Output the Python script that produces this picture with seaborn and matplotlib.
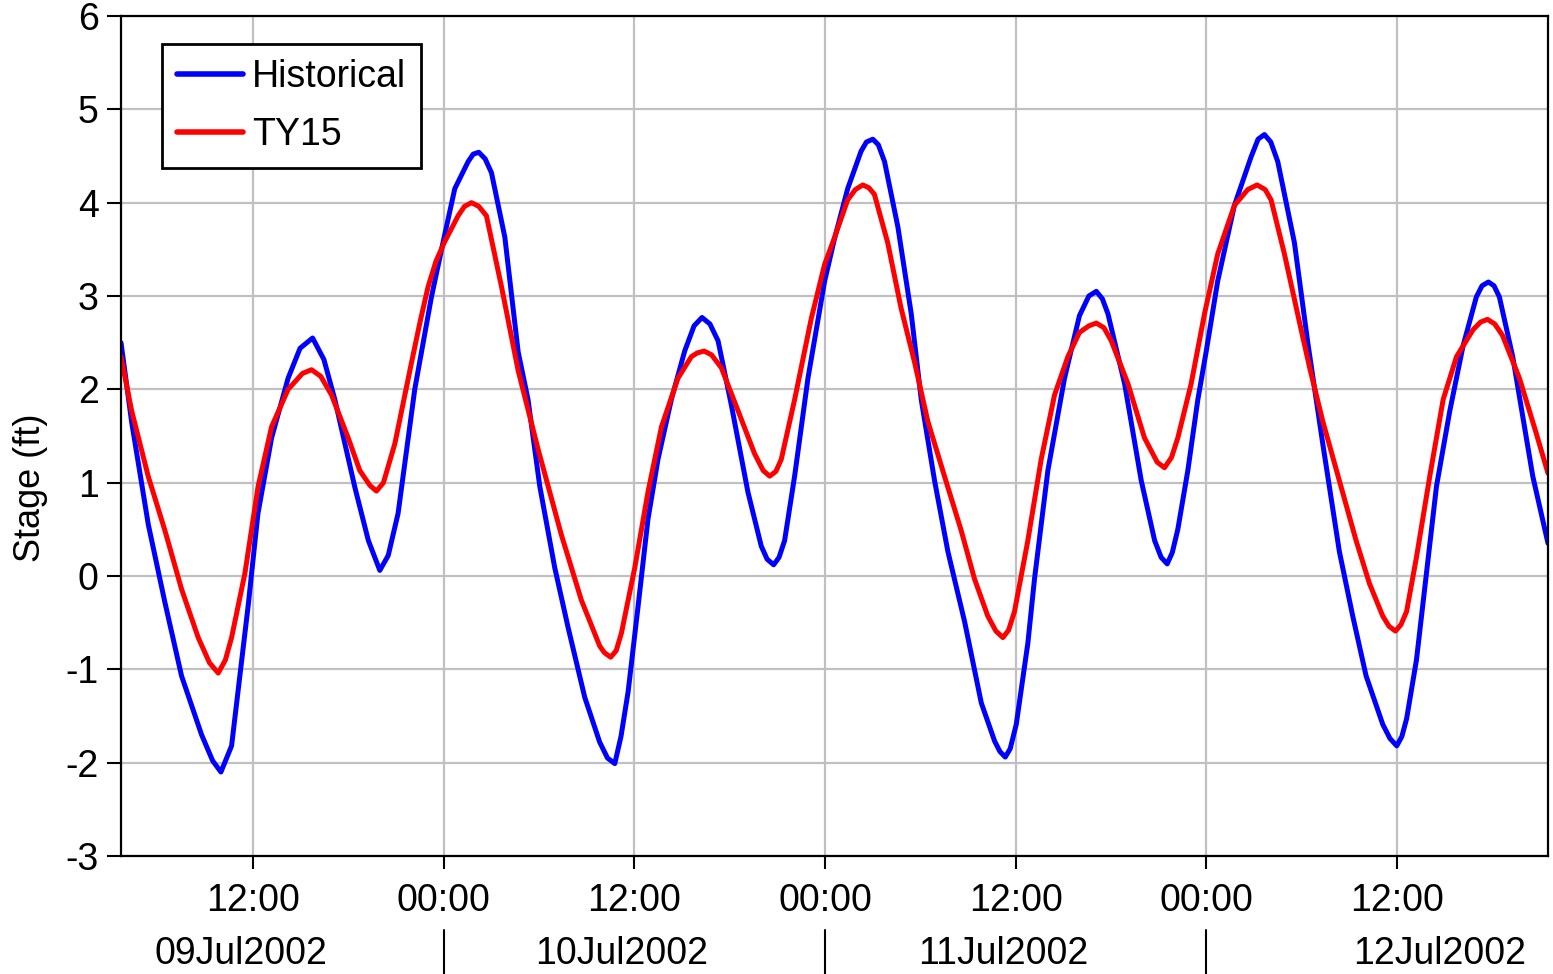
import numpy as np
import pandas as pd
import matplotlib
matplotlib.use("Agg")
import matplotlib.pyplot as plt
import matplotlib.dates as mdates
import matplotlib.transforms as mtransforms
import seaborn as sns

# ---------------- data (hours after 09Jul2002 00:00, stage in ft) ----------------
series_names = ["Historical", "TY15"]
series_colors = ["#0000ff", "#ff0000"]

hist_hours = [3.68, 4.35, 5.40, 6.44, 7.49, 8.75, 9.45, 9.97, 10.64, 11.69, 12.30, 13.16,
              14.20, 14.95, 15.74, 16.45, 17.14, 18.40, 19.25, 19.97, 20.50, 21.12, 22.17,
              23.22, 24.02, 24.69, 25.53, 25.85, 26.20, 26.60, 27.00, 27.84, 28.68, 29.30,
              30.04, 30.98, 31.82, 32.87, 33.81, 34.30, 34.76, 35.15, 35.60, 36.23, 36.85,
              37.48, 38.32, 39.16, 39.75, 40.25, 40.75, 41.26, 42.10, 43.14, 43.98, 44.35,
              44.76, 45.10, 45.45, 46.08, 46.92, 47.97, 48.60, 49.42, 50.26, 50.60, 51.00,
              51.35, 51.74, 52.58, 53.42, 54.05, 54.89, 55.73, 56.78, 57.83, 58.67, 59.00,
              59.34, 59.65, 60.03, 60.76, 61.18, 62.02, 63.07, 64.01, 64.60, 65.07, 65.45,
              65.80, 66.85, 67.90, 68.74, 69.15, 69.53, 69.85, 70.20, 70.83, 71.46, 71.99,
              72.71, 73.76, 74.81, 75.25, 75.65, 76.05, 76.49, 77.54, 78.38, 79.32, 80.37,
              81.21, 82.05, 83.10, 83.55, 83.98, 84.30, 84.60, 85.22, 85.85, 86.48, 87.32,
              88.16, 88.99, 89.35, 89.75, 90.10, 90.44, 91.28, 92.54, 93.50]
hist_stage = [2.50, 1.65, 0.55, -0.28, -1.07, -1.70, -1.98, -2.10, -1.82, -0.31, 0.67, 1.48,
              2.12, 2.44, 2.55, 2.32, 1.89, 0.95, 0.38, 0.06, 0.22, 0.67, 2.00,
              2.99, 3.63, 4.15, 4.44, 4.52, 4.54, 4.47, 4.32, 3.63, 2.40, 1.89,
              0.96, 0.09, -0.55, -1.30, -1.78, -1.95, -2.01, -1.72, -1.24, -0.32, 0.61,
              1.25, 1.89, 2.41, 2.68, 2.77, 2.70, 2.52, 1.83, 0.90, 0.32, 0.18,
              0.12, 0.20, 0.38, 1.07, 2.12, 3.16, 3.62, 4.15, 4.55, 4.65, 4.68,
              4.62, 4.44, 3.74, 2.81, 1.89, 1.02, 0.26, -0.49, -1.36, -1.77, -1.88,
              -1.94, -1.85, -1.59, -0.72, -0.03, 1.13, 2.12, 2.79, 3.00, 3.05, 2.97,
              2.81, 2.06, 1.02, 0.38, 0.20, 0.13, 0.25, 0.50, 1.13, 1.89, 2.41,
              3.16, 3.97, 4.49, 4.68, 4.73, 4.65, 4.44, 3.57, 2.50, 1.42, 0.26,
              -0.43, -1.07, -1.59, -1.74, -1.82, -1.72, -1.53, -0.90, 0.03, 0.96, 1.77,
              2.47, 2.99, 3.11, 3.15, 3.11, 2.99, 2.35, 1.07, 0.35]

ty15_hours = [3.68, 4.35, 5.39, 6.44, 7.49, 8.54, 9.25, 9.80, 10.25, 10.64, 11.48, 12.31,
              13.16, 14.20, 15.10, 15.67, 16.25, 16.93, 17.98, 18.71, 19.35, 19.76, 20.20,
              20.92, 21.97, 22.50, 23.01, 23.50, 24.02, 24.90, 25.30, 25.74, 26.20, 26.68,
              27.63, 28.68, 29.93, 31.40, 32.66, 33.81, 34.10, 34.50, 34.85, 35.18, 36.02,
              36.85, 37.70, 38.74, 39.58, 39.95, 40.38, 40.85, 41.47, 42.52, 43.56, 44.10,
              44.51, 44.90, 45.24, 46.08, 47.13, 47.97, 48.60, 49.42, 49.90, 50.37, 50.75,
              51.10, 51.94, 52.78, 53.63, 54.46, 55.51, 56.56, 57.40, 58.24, 58.75, 59.19,
              59.55, 59.92, 60.76, 61.60, 62.44, 63.28, 64.01, 64.60, 65.07, 65.55, 66.01,
              67.06, 68.10, 68.90, 69.36, 69.80, 70.20, 71.04, 71.88, 72.71, 73.76, 74.60,
              75.19, 75.70, 76.07, 76.91, 77.96, 78.50, 79.32, 80.37, 81.42, 82.26, 83.10,
              83.50, 83.90, 84.25, 84.60, 85.22, 86.06, 86.90, 87.74, 88.79, 89.25, 89.69,
              90.15, 90.63, 91.70, 92.74, 93.50]
ty15_stage = [2.35, 1.77, 1.07, 0.49, -0.14, -0.66, -0.93, -1.04, -0.90, -0.66, 0.03, 0.96,
              1.60, 2.00, 2.17, 2.21, 2.14, 1.94, 1.48, 1.13, 0.97, 0.91, 1.00,
              1.42, 2.29, 2.72, 3.10, 3.37, 3.57, 3.86, 3.96, 4.00, 3.96, 3.86,
              3.10, 2.20, 1.36, 0.44, -0.26, -0.75, -0.82, -0.87, -0.80, -0.61, 0.09,
              0.90, 1.60, 2.12, 2.35, 2.39, 2.41, 2.37, 2.23, 1.77, 1.31, 1.13,
              1.07, 1.12, 1.25, 1.89, 2.76, 3.34, 3.63, 4.03, 4.14, 4.19, 4.16,
              4.09, 3.57, 2.87, 2.29, 1.66, 1.07, 0.49, -0.03, -0.43, -0.59, -0.66,
              -0.58, -0.38, 0.38, 1.25, 1.94, 2.35, 2.61, 2.68, 2.71, 2.66, 2.52,
              2.06, 1.48, 1.22, 1.16, 1.27, 1.48, 2.06, 2.81, 3.45, 3.97, 4.14,
              4.19, 4.14, 4.03, 3.45, 2.64, 2.23, 1.66, 1.02, 0.38, -0.08, -0.43,
              -0.54, -0.59, -0.52, -0.38, 0.20, 1.07, 1.89, 2.35, 2.64, 2.72, 2.75,
              2.70, 2.58, 2.12, 1.54, 1.10]

day_labels = ["09Jul2002", "10Jul2002", "11Jul2002", "12Jul2002"]
y_ticks = [-3, -2, -1, 0, 1, 2, 3, 4, 5, 6]
y_label = "Stage (ft)"

# ---------------- build frame ----------------
t0 = pd.Timestamp("2002-07-09 00:00")
frames = []
for name, hrs, vals in [(series_names[0], hist_hours, hist_stage),
                        (series_names[1], ty15_hours, ty15_stage)]:
    frames.append(pd.DataFrame({
        "time": t0 + pd.to_timedelta(np.array(hrs), unit="h"),
        "stage": vals,
        "series": name,
    }))
df = pd.concat(frames, ignore_index=True)

# ---------------- style ----------------
sns.set_theme(style="white", rc={"text.color": "black", "axes.labelcolor": "black",
                                 "xtick.color": "black", "ytick.color": "black"})
plt.rcParams["font.family"] = ["Liberation Sans", "DejaVu Sans"]
plt.rcParams["axes.unicode_minus"] = False

W, H = 1553, 974
fig = plt.figure(figsize=(W / 100, H / 100), dpi=100)
ax = fig.add_axes([121 / W, 1 - 856 / H, (1548 - 121) / W, (856 - 16) / H])

sns.lineplot(data=df, x="time", y="stage", hue="series",
             palette=dict(zip(series_names, series_colors)),
             estimator=None, sort=False, linewidth=3.6,
             solid_joinstyle="round", ax=ax)

ax.set_xlim(df["time"].min(), df["time"].max())
ax.set_ylim(y_ticks[0], y_ticks[-1])
ax.set_yticks(y_ticks)
ax.set_yticklabels([str(v) for v in y_ticks])
ax.xaxis.set_major_locator(mdates.HourLocator(byhour=[0, 12]))
ax.xaxis.set_major_formatter(mdates.DateFormatter("%H:%M"))

ax.grid(True, color="#c0c0c0", linewidth=1.6)
ax.set_axisbelow(True)
for s in ax.spines.values():
    s.set_visible(True)
    s.set_color("black")
    s.set_linewidth(1.6)

ax.tick_params(axis="y", left=True, direction="out", length=10, width=1.5,
               pad=6, labelsize=27, colors="black")
ax.tick_params(axis="x", bottom=True, direction="out", length=9.5, width=1.5,
               pad=10, labelsize=27, colors="black")

ax.set_xlabel("")
ax.set_ylabel(y_label, fontsize=26, color="black")
ax.yaxis.set_label_coords(-0.051, 0.438)

# legend
handles, labels = ax.get_legend_handles_labels()
leg = ax.legend(handles, labels, loc="upper left", bbox_to_anchor=(0.0287, 0.9667),
                borderaxespad=0, frameon=True, fancybox=False, edgecolor="black",
                framealpha=1, fontsize=27, handlelength=1.76, handletextpad=0.25,
                borderpad=0.4, labelspacing=0.6)
leg.get_frame().set_linewidth(2)
for ln in leg.get_lines():
    ln.set_linewidth(4)
for txt in leg.get_texts():
    txt.set_color("black")

# date labels and separators below the time axis
trans = mtransforms.blended_transform_factory(ax.transData, ax.transAxes)
label_hours = [11.2, 35.2, 59.2, 86.7]
for lab, hh in zip(day_labels, label_hours):
    xd = mdates.date2num(t0 + pd.Timedelta(hours=hh))
    ax.text(xd, -0.117, lab, transform=trans, ha="center", va="center",
            fontsize=27, color="black", clip_on=False)
for d in range(1, len(day_labels)):
    xd = mdates.date2num(t0 + pd.Timedelta(days=d))
    ax.plot([xd, xd], [-0.088, -0.1405], transform=trans, color="black",
            linewidth=1.5, clip_on=False)

fig.savefig("out.png", dpi=100)
